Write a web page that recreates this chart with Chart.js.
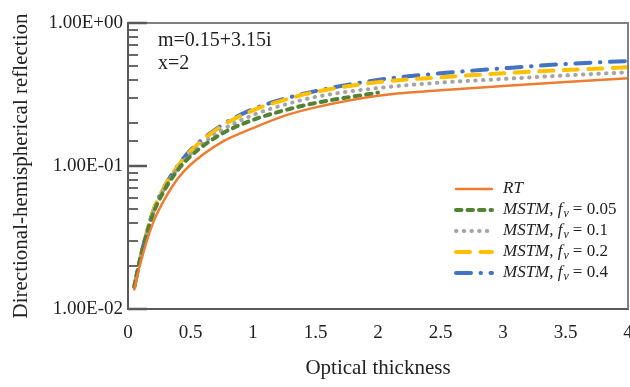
<!DOCTYPE html>
<html>
<head>
<meta charset="utf-8">
<script src="https://cdn.jsdelivr.net/npm/chart.js@4.4.1/dist/chart.umd.min.js"></script>
<style>
  html, body { margin: 0; padding: 0; background: #fff; }
  #wrap { width: 630px; height: 387px; }
</style>
</head>
<body>
<div id="wrap"><canvas id="myChart" width="630" height="387"></canvas></div>
<script>
// optical thickness samples
const tau = [0.05, 0.1, 0.2, 0.3, 0.4, 0.5, 0.75, 1, 1.25, 1.5, 2, 2.5, 3, 3.5, 4];

// reflection values
const rt     = [0.0137, 0.021, 0.040, 0.060, 0.082, 0.102, 0.147, 0.184, 0.224, 0.257, 0.310, 0.338, 0.362, 0.386, 0.410];
const fv005  = [0.0143, 0.023, 0.046, 0.070, 0.094, 0.117, 0.168, 0.210, 0.245, 0.276, 0.326];
const fv01   = [0.0143, 0.023, 0.047, 0.072, 0.097, 0.121, 0.178, 0.227, 0.268, 0.304, 0.351, 0.383, 0.406, 0.430, 0.452];
const fv02   = [0.0143, 0.023, 0.048, 0.074, 0.100, 0.127, 0.190, 0.245, 0.290, 0.330, 0.386, 0.417, 0.445, 0.469, 0.490];
const fv04   = [0.0143, 0.023, 0.048, 0.074, 0.101, 0.129, 0.193, 0.250, 0.295, 0.334, 0.400, 0.445, 0.482, 0.517, 0.542];

const xTicks = [0, 0.5, 1, 1.5, 2, 2.5, 3, 3.5, 4];
const fvLabels = ['0.05', '0.1', '0.2', '0.4'];
const notes = ['m=0.15+3.15i', 'x=2'];

const SERIF = '"Liberation Serif", "DejaVu Serif", serif';

function pts(vals) {
    return vals.map((v, i) => ({ x: tau[i], y: v }));
}

function isPow10(v) {
    const l = Math.log10(v);
    return Math.abs(l - Math.round(l)) < 1e-6;
}

function sci(v) {
    const e = Math.round(Math.log10(v));
    return '1.00E' + (e < 0 ? '-' : '+') + String(Math.abs(e)).padStart(2, '0');
}

const datasets = [
    { label: 'RT', data: pts(rt), borderColor: '#ED7D31', borderWidth: 2.5, borderDash: [] },
    { label: 'MSTM 0.05', data: pts(fv005), borderColor: '#548235', borderWidth: 4, borderDash: [5.5, 6] },
    { label: 'MSTM 0.1', data: pts(fv01), borderColor: '#A5A5A5', borderWidth: 4, borderDash: [0.5, 7.2] },
    { label: 'MSTM 0.2', data: pts(fv02), borderColor: '#FFC000', borderWidth: 4, borderDash: [14, 10.5] },
    { label: 'MSTM 0.4', data: pts(fv04), borderColor: '#4472C4', borderWidth: 4, borderDash: [15, 9.5, 0.5, 9.5] }
].map(d => Object.assign(d, {
    fill: false,
    pointRadius: 0,
    cubicInterpolationMode: 'monotone',
    borderCapStyle: 'round'
}));

// frame, inner ticks, notes and legend
const decor = {
    id: 'decor',
    afterDraw(chart) {
        const ctx = chart.ctx;
        const a = chart.chartArea;
        const y = chart.scales.y;
        ctx.save();

        // top and right border
        ctx.strokeStyle = '#808080';
        ctx.lineWidth = 2;
        ctx.beginPath();
        ctx.moveTo(a.left, a.top);
        ctx.lineTo(a.right, a.top);
        ctx.lineTo(a.right, a.bottom);
        ctx.stroke();

        // ticks pointing inside
        ctx.strokeStyle = '#595959';
        y.ticks.forEach(t => {
            const py = Math.round(y.getPixelForValue(t.value));
            const len = isPow10(t.value) ? 19 : 10;
            ctx.lineWidth = isPow10(t.value) ? 2.5 : 1.8;
            ctx.beginPath();
            ctx.moveTo(a.left, py);
            ctx.lineTo(a.left + len, py);
            ctx.stroke();
        });

        // notes
        ctx.fillStyle = '#222';
        ctx.font = '20px ' + SERIF;
        ctx.textBaseline = 'alphabetic';
        notes.forEach((s, i) => ctx.fillText(s, a.left + 30, a.top + 23 + i * 23));

        // legend
        const lx0 = 456, lx1 = 492, tx = 503;
        let ly = 189;
        chart.data.datasets.forEach((d, i) => {
            ctx.strokeStyle = d.borderColor;
            ctx.lineWidth = d.borderWidth;
            ctx.lineCap = 'round';
            ctx.setLineDash(d.borderDash);
            ctx.beginPath();
            ctx.moveTo(lx0, ly);
            ctx.lineTo(lx1, ly);
            ctx.stroke();
            ctx.setLineDash([]);

            ctx.fillStyle = '#222';
            ctx.textBaseline = 'middle';
            let x = tx;
            if (i === 0) {
                ctx.font = 'italic 17px ' + SERIF;
                ctx.fillText('RT', x, ly);
            } else {
                ctx.font = 'italic 17px ' + SERIF;
                const s1 = 'MSTM, ';
                ctx.fillText(s1, x, ly);
                x += ctx.measureText(s1).width;
                ctx.fillText('f', x, ly);
                x += ctx.measureText('f').width + 1;
                ctx.font = 'italic 12px ' + SERIF;
                ctx.fillText('v', x, ly + 4);
                x += ctx.measureText('v').width + 4;
                ctx.font = '17px ' + SERIF;
                ctx.fillText('= ' + fvLabels[i - 1], x, ly);
            }
            ly += 21;
        });
        ctx.restore();
    }
};

const ctx1 = document.getElementById('myChart').getContext('2d');
new Chart(ctx1, {
    type: 'line',
    data: { datasets: datasets },
    options: {
        responsive: false,
        animation: false,
        layout: { padding: { top: 23, right: 2, left: 0, bottom: 0 } },
        plugins: {
            legend: { display: false },
            tooltip: { enabled: false }
        },
        scales: {
            x: {
                type: 'linear',
                min: 0,
                max: 4,
                afterBuildTicks: s => { s.ticks = xTicks.map(v => ({ value: v })); },
                afterFit: s => { s.height = 78; s.paddingLeft = 0; s.paddingRight = 0; },
                grid: { display: false, drawTicks: false },
                border: { display: true, color: '#595959', width: 2 },
                ticks: {
                    padding: 13,
                    color: '#222',
                    font: { family: SERIF, size: 19 },
                    callback: v => String(v)
                },
                title: {
                    display: true,
                    text: 'Optical thickness',
                    color: '#222',
                    font: { family: SERIF, size: 21 },
                    padding: { top: 0, bottom: 6 }
                }
            },
            y: {
                type: 'logarithmic',
                min: 0.01,
                max: 1,
                afterFit: s => { s.width = 128; s.paddingTop = 0; s.paddingBottom = 0; },
                grid: { display: false, drawTicks: false },
                border: { display: true, color: '#595959', width: 2 },
                ticks: {
                    autoSkip: false,
                    padding: 5,
                    color: '#222',
                    font: { family: SERIF, size: 19 },
                    callback: v => isPow10(v) ? sci(v) : ''
                },
                title: {
                    display: true,
                    text: 'Directional-hemispherical reflection',
                    color: '#222',
                    font: { family: SERIF, size: 21 },
                    padding: { top: 9, bottom: 0 }
                }
            }
        }
    },
    plugins: [decor]
});
</script>
</body>
</html>
